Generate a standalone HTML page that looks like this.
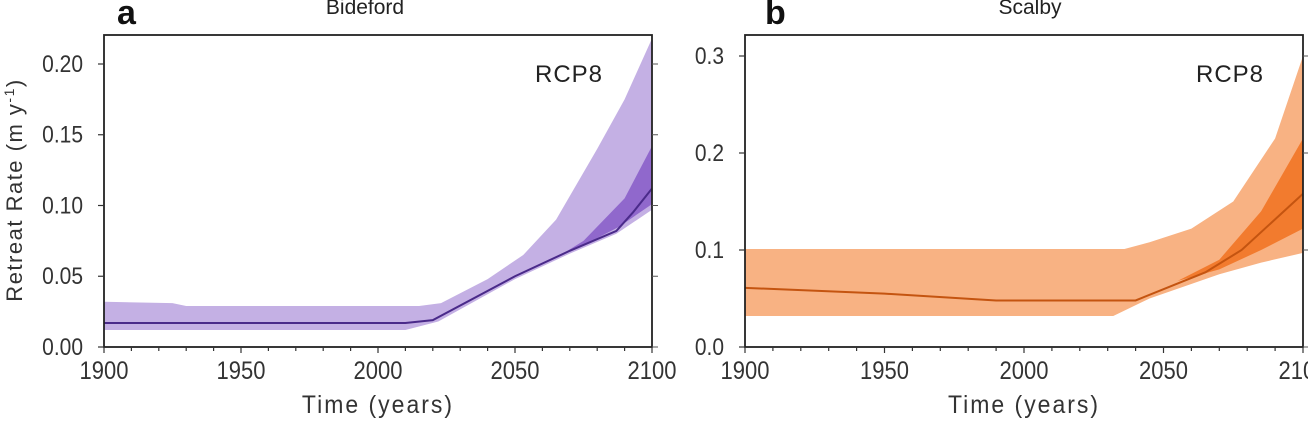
<!DOCTYPE html>
<html><head><meta charset="utf-8">
<style>
html,body{margin:0;padding:0;background:#fff;}
svg{display:block;font-family:"Liberation Sans",sans-serif;}
</style></head>
<body>
<svg id="s" width="1308" height="422" xmlns="http://www.w3.org/2000/svg">
<rect width="1308" height="422" fill="#fff"/>
</svg>
<script>
const s=document.getElementById('s');
const NS="http://www.w3.org/2000/svg";
function el(t,a,txt){const e=document.createElementNS(NS,t);for(const k in a)e.setAttribute(k,a[k]);if(txt!==undefined)e.textContent=txt;s.appendChild(e);return e;}
function panel(o){
 const X=y=>o.x0+(y-1900)/200*(o.x1-o.x0);
 const Y=v=>o.yb-v*o.k;
 const band=(up,lo,fill)=>{let d='M'+up.map(p=>X(p[0])+','+Y(p[1])).join('L')+'L'+lo.slice().reverse().map(p=>X(p[0])+','+Y(p[1])).join('L')+'Z';el('path',{d,fill});};
 band(o.lu,o.ll,o.c1);
 band(o.du,o.dl,o.c2);
 el('polyline',{points:o.m.map(p=>X(p[0])+','+Y(p[1])).join(' '),fill:'none',stroke:o.c3,'stroke-width':2});
 el('rect',{x:o.x0,y:35,width:o.x1-o.x0,height:o.yb-35,fill:'none',stroke:'#222','stroke-width':1.8});
 for(let yr=1900;yr<=2100;yr+=10){const big=yr%50==0;el('line',{x1:X(yr),x2:X(yr),y1:o.yb,y2:o.yb+(big?6:4),stroke:'#333','stroke-width':1.2});
  if(big){el('text',{x:X(yr),y:o.yb+32,'text-anchor':'middle','font-size':22,fill:'#333',transform:`translate(0,${-(o.yb+32)*0.15}) scale(1,1.15)`},String(yr));}}
 o.ticks.forEach(v=>{el('line',{x1:o.x0-6,x2:o.x0,y1:Y(v),y2:Y(v),stroke:'#333','stroke-width':1.2});
  el('line',{x1:o.x1,x2:o.x1+6,y1:Y(v),y2:Y(v),stroke:'#555','stroke-width':1});
  el('text',{x:o.x0-21,y:Y(v)+8,'text-anchor':'end','font-size':21,fill:'#333',transform:`translate(0,${-(Y(v)+8)*0.15}) scale(1,1.15)`},v.toFixed(o.dec));});
 el('text',{x:(o.x0+o.x1)/2,y:413,'text-anchor':'middle','font-size':23,'letter-spacing':2,fill:'#333',transform:`translate(0,${-413*0.1}) scale(1,1.1)`},'Time (years)');
 el('text',{x:o.lx,y:24,'font-size':34,'font-weight':'bold',fill:'#111'},o.lab);
 el('text',{x:o.tx,y:14,'text-anchor':'middle','font-size':21,fill:'#222'},o.title);
 el('text',{x:o.rx,y:82,'text-anchor':'middle','font-size':24,'letter-spacing':1,fill:'#222'},'RCP8');
}
panel({x0:104,x1:652,yb:347,k:1415,dec:2,ticks:[0,0.05,0.1,0.15,0.2],lab:'a',lx:117,title:'Bideford',tx:365,rx:569,
 c1:'#c4b0e4',c2:'#9068cc',c3:'#4a2a8a',
 lu:[[1900,0.032],[1925,0.031],[1930,0.029],[2015,0.029],[2023,0.031],[2040,0.048],[2053,0.065],[2065,0.09],[2080,0.14],[2090,0.175],[2100,0.218]],
 ll:[[1900,0.012],[2010,0.012],[2022,0.018],[2050,0.048],[2070,0.066],[2087,0.08],[2100,0.097]],
 du:[[2065,0.063],[2075,0.075],[2090,0.105],[2100,0.142]],
 dl:[[2065,0.063],[2075,0.072],[2088,0.085],[2100,0.101]],
 m:[[1900,0.017],[2010,0.017],[2020,0.019],[2050,0.05],[2070,0.068],[2087,0.082],[2093,0.095],[2100,0.112]]});
panel({x0:745,x1:1303,yb:347,k:970,dec:1,ticks:[0,0.1,0.2,0.3],lab:'b',lx:765,title:'Scalby',tx:1030,rx:1230,
 c1:'#f8b283',c2:'#f27b2e',c3:'#c45410',
 lu:[[1900,0.101],[2036,0.101],[2045,0.108],[2060,0.122],[2075,0.15],[2090,0.215],[2100,0.3]],
 ll:[[1900,0.032],[2032,0.032],[2045,0.05],[2070,0.075],[2085,0.087],[2100,0.097]],
 du:[[2055,0.068],[2070,0.09],[2085,0.14],[2100,0.215]],
 dl:[[2055,0.068],[2070,0.08],[2085,0.1],[2100,0.122]],
 m:[[1900,0.061],[1950,0.055],[1990,0.048],[2040,0.048],[2065,0.077],[2078,0.1],[2100,0.158]]});
const t=el('text',{x:0,y:0,'text-anchor':'middle','font-size':22,'letter-spacing':1.5,fill:'#333',transform:'translate(22,190) rotate(-90)'});
t.textContent='Retreat Rate (m y';
const sp=document.createElementNS(NS,'tspan');sp.setAttribute('dy','-8');sp.setAttribute('font-size','14');sp.textContent='-1';t.appendChild(sp);
const sp2=document.createElementNS(NS,'tspan');sp2.setAttribute('dy','8');sp2.textContent=')';t.appendChild(sp2);
</script>
</body></html>
